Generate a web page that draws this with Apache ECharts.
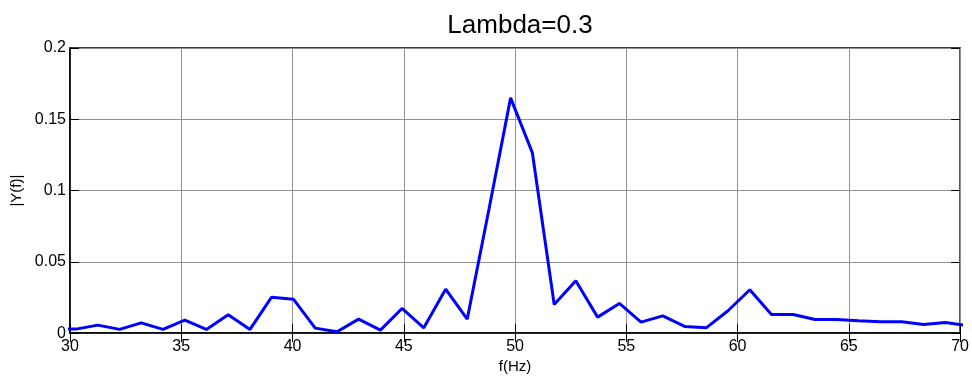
<!DOCTYPE html>
<html>
<head>
<meta charset="utf-8">
<script src="https://cdn.jsdelivr.net/npm/echarts@6/dist/echarts.min.js"></script>
<style>
  html, body { margin: 0; padding: 0; background: #fff; }
  #chart { width: 972px; height: 379px; }
</style>
</head>
<body>
<div id="chart"></div>
<script>
// spectrum samples (bins are ~0.977 Hz apart)
const freqs = [29.30, 30.27, 31.25, 32.23, 33.20, 34.18, 35.16, 36.13, 37.11, 38.09,
  39.06, 40.04, 41.02, 42.00, 42.97, 43.95, 44.92, 45.90, 46.88, 47.85,
  48.83, 49.80, 50.78, 51.76, 52.73, 53.71, 54.69, 55.66, 56.64, 57.62,
  58.59, 59.57, 60.55, 61.52, 62.50, 63.48, 64.45, 65.43, 66.41, 67.38,
  68.36, 69.34, 70.31];
const magnitude = [0.003, 0.0028, 0.0056, 0.0026, 0.0072, 0.0026, 0.0091, 0.0026, 0.0129, 0.0026,
  0.0252, 0.0238, 0.0035, 0.0009, 0.0098, 0.0021, 0.0173, 0.0037, 0.0308, 0.0098,
  0.087, 0.165, 0.1264, 0.0201, 0.0367, 0.0112, 0.0208, 0.0077, 0.0121, 0.0047,
  0.0037, 0.0157, 0.0304, 0.0131, 0.0131, 0.0096, 0.0096, 0.0086, 0.0079, 0.0079,
  0.0061, 0.0075, 0.0052];

const titleText = 'Lambda=0.3';
const xName = 'f(Hz)';
const yName = '|Y(f)|';

const FONT = 'Liberation Sans, Arial, sans-serif';

let points = freqs.map(function (f, i) { return [f, magnitude[i]]; });

let chart = echarts.init(document.getElementById('chart'), null, {renderer: 'canvas'});

// MATLAB-ish box: ticks inside on all four sides
let tickStyle = {show: true, inside: true, length: 9, lineStyle: {color: '#000', width: 1}};
let gridLines = {show: true, lineStyle: {color: '#939393', width: 1}};

chart.setOption({
    animation: false,
    title: {
        text: titleText,
        left: 515,
        top: 8,
        textAlign: 'center',
        textStyle: {fontFamily: FONT, fontSize: 26, fontWeight: 'normal', color: '#000'}
    },
    grid: {
        left: 70, right: 11, top: 48, bottom: 45,
        show: true, borderColor: '#000', borderWidth: 1.5,
        containLabel: false
    },
    xAxis: [{
        type: 'value', min: 30, max: 70, interval: 5,
        name: xName, nameLocation: 'middle', nameGap: 24,
        nameTextStyle: {fontFamily: FONT, fontSize: 15, color: '#000'},
        axisLine: {show: true, lineStyle: {color: '#000', width: 1.5}},
        axisTick: tickStyle,
        axisLabel: {fontFamily: FONT, fontSize: 16, color: '#000', margin: 5},
        splitLine: gridLines
    }, {
        type: 'value', min: 30, max: 70, interval: 5, position: 'top',
        axisLine: {show: false}, axisTick: tickStyle,
        axisLabel: {show: false}, splitLine: {show: false}
    }],
    yAxis: [{
        type: 'value', min: 0, max: 0.2, interval: 0.05,
        name: yName, nameLocation: 'middle', nameGap: 38,
        nameTextStyle: {fontFamily: FONT, fontSize: 15, color: '#000'},
        axisLine: {show: true, lineStyle: {color: '#000', width: 1.5}},
        axisTick: tickStyle,
        axisLabel: {fontFamily: FONT, fontSize: 16, color: '#000', margin: 4},
        splitLine: gridLines
    }, {
        type: 'value', min: 0, max: 0.2, interval: 0.05, position: 'right',
        axisLine: {show: false}, axisTick: tickStyle,
        axisLabel: {show: false}, splitLine: {show: false}
    }],
    series: [{
        type: 'line',
        data: points,
        showSymbol: false,
        clip: true,
        lineStyle: {color: '#0000ff', width: 3},
        itemStyle: {color: '#0000ff'}
    }]
});

window.addEventListener('resize', function () { chart.resize(); });
</script>
</body>
</html>
